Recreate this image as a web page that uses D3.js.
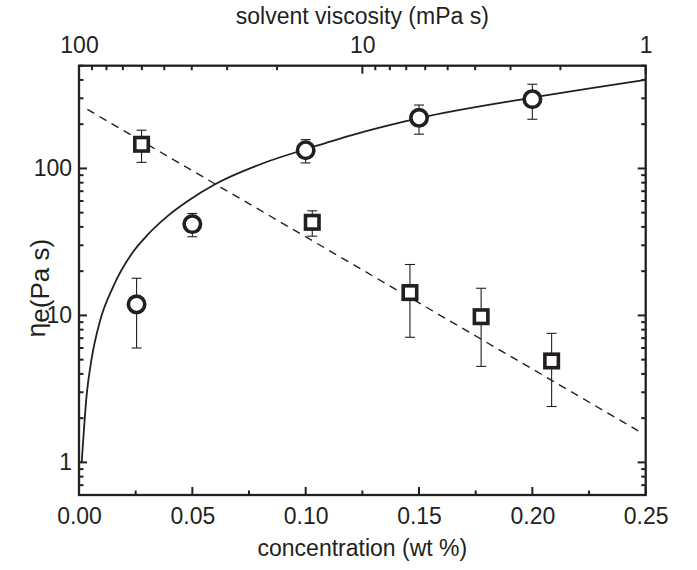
<!DOCTYPE html>
<html lang="en">
<head>
    <meta charset="UTF-8">
    <title>Elongational viscosity</title>
    <script src="https://d3js.org/d3.v7.min.js"></script>
    <style>
        body { margin: 0; background: #fff; }
        text { font-family: "Liberation Sans", Arial, sans-serif; fill: #231f20; }
    </style>
</head>
<body>
<svg width="697" height="570"></svg>
<script>
    // circles: eta_e vs concentration
    let circleConc = [0.0254, 0.050, 0.100, 0.150, 0.200]
    let circleEta  = [11.9, 41.8, 133, 221, 296]
    let circleLo   = [6.0, 34.3, 109, 171, 216]
    let circleHi   = [17.9, 49.4, 157, 270, 374]

    // squares: eta_e vs solvent viscosity (plotted on the concentration axis)
    let squareConc = [0.0276, 0.1029, 0.146, 0.1774, 0.2085]
    let squareEta  = [146, 43, 14.3, 9.8, 4.9]
    let squareLo   = [110, 34.6, 7.1, 4.5, 2.4]
    let squareHi   = [182, 51.5, 22.2, 15.3, 7.55]

    // solid fit curve
    let fitConc = [0.0012, 0.0034, 0.0055, 0.0093, 0.015, 0.0238, 0.030, 0.0388, 0.048, 0.060, 0.083, 0.1006, 0.120, 0.150, 0.200, 0.250]
    let fitEta  = [1.0, 2.9, 5.0, 9.2, 15.6, 27, 35, 47, 60, 78, 111, 136, 168, 220, 303, 400]

    // dashed fit line (end points)
    let dashConc = [0.0037, 0.2467]
    let dashEta  = [252, 1.64]

    let xTicks = [0, 0.05, 0.10, 0.15, 0.20, 0.25]
    let xMinor = [0.025, 0.075, 0.125, 0.175, 0.225]
    let yTicks = [1, 10, 100]
    let topTicks = [100, 10, 1]

    let svg = d3.select('svg')
    let plotLeft = 79, plotRight = 645.7, plotTop = 65.7, plotBottom = 495
    let dark = '#231f20'

    let x = d3.scaleLinear().domain([0, 0.25]).range([plotLeft, plotRight])
    let y = d3.scaleLog().domain([0.6, 500]).range([plotBottom, plotTop])
    let xTop = d3.scaleLog().domain([100, 1]).range([plotLeft, plotRight])

    let yMinor = y.ticks().filter(d => !yTicks.includes(d))
    let topMinor = xTop.ticks().filter(d => !topTicks.includes(d))

    function axisStyle(g) {
        g.select('.domain').remove()
        g.selectAll('line').remove()
        g.selectAll('text').attr('font-size', 23).attr('fill', dark)
            .style('font-family', '"Liberation Sans", Arial, sans-serif')
    }

    // tick labels
    svg.append('g').attr('transform', `translate(0,${plotBottom})`)
        .call(d3.axisBottom(x).tickValues(xTicks).tickSize(0).tickPadding(13).tickFormat(d3.format('.2f')))
        .call(axisStyle)
    svg.append('g').attr('transform', `translate(0,${plotTop})`)
        .call(d3.axisTop(xTop).tickValues(topTicks).tickSize(0).tickPadding(13).tickFormat(d3.format('d')))
        .call(axisStyle)
    svg.append('g').attr('transform', `translate(${plotLeft},0)`)
        .call(d3.axisLeft(y).tickValues(yTicks).tickSize(0).tickPadding(7).tickFormat(d3.format('d')))
        .call(axisStyle)

    // inward tick marks
    let tickG = svg.append('g').attr('stroke', dark).attr('stroke-width', 2)
    function xMarks(scale, values, y0, len) {
        tickG.selectAll(null).data(values).enter().append('line')
            .attr('x1', d => scale(d)).attr('x2', d => scale(d))
            .attr('y1', y0).attr('y2', y0 + len)
    }
    function yMarks(values, x0, len) {
        tickG.selectAll(null).data(values).enter().append('line')
            .attr('y1', d => y(d)).attr('y2', d => y(d))
            .attr('x1', x0).attr('x2', x0 + len)
    }
    xMarks(x, xTicks, plotBottom, -8)
    xMarks(x, xMinor, plotBottom, -4.5)
    xMarks(xTop, topTicks, plotTop, 8)
    xMarks(xTop, topMinor, plotTop, 4.5)
    yMarks(yTicks, plotLeft, 8)
    yMarks(yMinor, plotLeft, 4.5)
    yMarks(yTicks, plotRight, -8)
    yMarks(yMinor, plotRight, -4.5)

    // frame
    svg.append('rect')
        .attr('x', plotLeft).attr('y', plotTop)
        .attr('width', plotRight - plotLeft).attr('height', plotBottom - plotTop)
        .attr('fill', 'none').attr('stroke', dark).attr('stroke-width', 2.3)

    // fit lines
    let fitData = fitConc.map((c, i) => [c, fitEta[i]])
    svg.append('path')
        .datum(fitData)
        .attr('fill', 'none').attr('stroke', dark).attr('stroke-width', 1.8)
        .attr('d', d3.line().x(d => x(d[0])).y(d => y(d[1])).curve(d3.curveMonotoneX))

    let dashData = dashConc.map((c, i) => [c, dashEta[i]])
    svg.append('path')
        .datum(dashData)
        .attr('fill', 'none').attr('stroke', dark).attr('stroke-width', 1.4)
        .attr('stroke-dasharray', '8,6')
        .attr('d', d3.line().x(d => x(d[0])).y(d => y(d[1])))

    // error bars
    function errorBars(cs, lo, hi) {
        let g = svg.append('g').attr('stroke', dark).attr('stroke-width', 1.1)
        cs.forEach(function(c, i) {
            let cx = x(c)
            g.append('line').attr('x1', cx).attr('x2', cx).attr('y1', y(lo[i])).attr('y2', y(hi[i]))
            g.append('line').attr('x1', cx - 5).attr('x2', cx + 5).attr('y1', y(lo[i])).attr('y2', y(lo[i]))
            g.append('line').attr('x1', cx - 5).attr('x2', cx + 5).attr('y1', y(hi[i])).attr('y2', y(hi[i]))
        })
    }
    errorBars(circleConc, circleLo, circleHi)
    errorBars(squareConc, squareLo, squareHi)

    // markers
    svg.append('g').selectAll('circle')
        .data(circleConc)
        .enter()
        .append('circle')
        .attr('cx', d => x(d))
        .attr('cy', (d, i) => y(circleEta[i]))
        .attr('r', 8.2)
        .attr('fill', '#fff').attr('stroke', dark).attr('stroke-width', 3.6)

    let side = 13.5
    svg.append('g').selectAll('rect')
        .data(squareConc)
        .enter()
        .append('rect')
        .attr('x', d => x(d) - side / 2)
        .attr('y', (d, i) => y(squareEta[i]) - side / 2)
        .attr('width', side).attr('height', side)
        .attr('fill', '#fff').attr('stroke', dark).attr('stroke-width', 3.6)

    // titles
    svg.append('text')
        .attr('x', (plotLeft + plotRight) / 2).attr('y', 556)
        .attr('text-anchor', 'middle').attr('font-size', 23)
        .text('concentration (wt %)')

    svg.append('text')
        .attr('x', (plotLeft + plotRight) / 2).attr('y', 24)
        .attr('text-anchor', 'middle').attr('font-size', 23)
        .text('solvent viscosity (mPa s)')

    let ylab = svg.append('text')
        .attr('transform', 'translate(45,288) rotate(-90)')
        .attr('text-anchor', 'middle').attr('font-size', 26)
    ylab.append('tspan').text('η')
    ylab.append('tspan').attr('dy', 4).text('e(Pa s)')
</script>
</body>
</html>
